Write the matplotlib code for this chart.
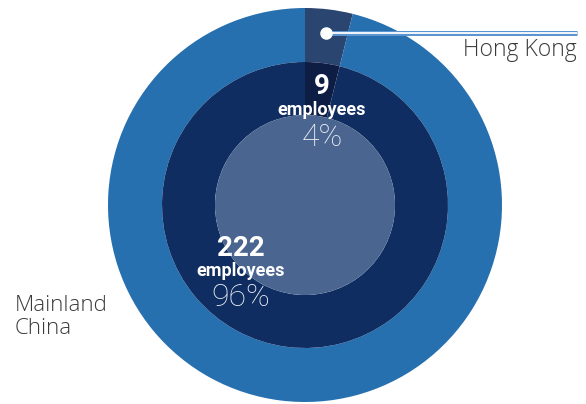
import numpy as np
import matplotlib
matplotlib.use("Agg")
import matplotlib.pyplot as plt
from matplotlib.patches import Circle

# Staff by location
regions = ["Hong Kong", "Mainland China"]
employees = [9, 222]
percents = [4, 96]

W, H = 586, 404
fig = plt.figure(figsize=(W / 100, H / 100), dpi=100)
ax = fig.add_axes([0, 0, 1, 1])
ax.set_xlim(0, W)
ax.set_ylim(0, H)
ax.set_aspect("equal")
ax.axis("off")

cx, cy = 305, H - 205
r_outer, r_mid, r_inner = 197, 143, 90

outer_colors = ["#2b4571", "#2770b0"]
mid_colors = ["#0d1d44", "#0f2d61"]

ax.pie(employees, radius=r_outer, center=(cx, cy), startangle=90,
       counterclock=False, colors=outer_colors,
       wedgeprops=dict(width=r_outer - r_mid, linewidth=0))
ax.pie(employees, radius=r_mid, center=(cx, cy), startangle=90,
       counterclock=False, colors=mid_colors,
       wedgeprops=dict(width=r_mid - r_inner, linewidth=0))
ax.add_patch(Circle((cx, cy), r_inner, color="#4a6590", lw=0, zorder=3))
ax.set_xlim(0, W)
ax.set_ylim(0, H)

# Leader line for the Hong Kong wedge
total = sum(employees)
mid_ang = np.deg2rad(90 - 360 * employees[0] / total / 2)
r_dot = 173
dx, dy = cx + r_dot * np.cos(mid_ang), cy + r_dot * np.sin(mid_ang)
ax.plot([dx, 577], [dy, dy], color="#5b95cf", lw=3.6, solid_capstyle="butt", zorder=5)
ax.plot([dx, 577], [dy, dy], color="white", lw=1.3, solid_capstyle="butt", zorder=6)
ax.plot(dx, dy, "o", color="white", ms=8, mec="white", zorder=7)

label_font = ["Open Sans", "DejaVu Sans"]
ax.text(577, H - 50, regions[0], ha="right", va="center", fontsize=16.5,
        color="#3a3a3a", family=label_font, fontweight="light")
ax.text(15, H - 317, "Mainland\nChina", ha="left", va="center", fontsize=16,
        color="#3a3a3a", family=label_font, fontweight="light",
        linespacing=1.12)

num_font = ["Roboto", "DejaVu Sans"]
positions = [(322, 87), (241, 248)]
for (px, py), n, p in zip(positions, employees, percents):
    ax.text(px, H - py, f"{n}", ha="center", va="center", fontsize=20,
            color="white", fontweight="bold", family=num_font, zorder=8)
    ax.text(px, H - (py + 23), "employees", ha="center", va="center",
            fontsize=13, color="white", fontweight="bold", family=num_font, zorder=8)
    ax.text(px, H - (py + 50), f"{p}%", ha="center", va="center",
            fontsize=23, color="#f2f4f8", fontweight="light", family=num_font, zorder=8)

fig.savefig("out.png", dpi=100)
